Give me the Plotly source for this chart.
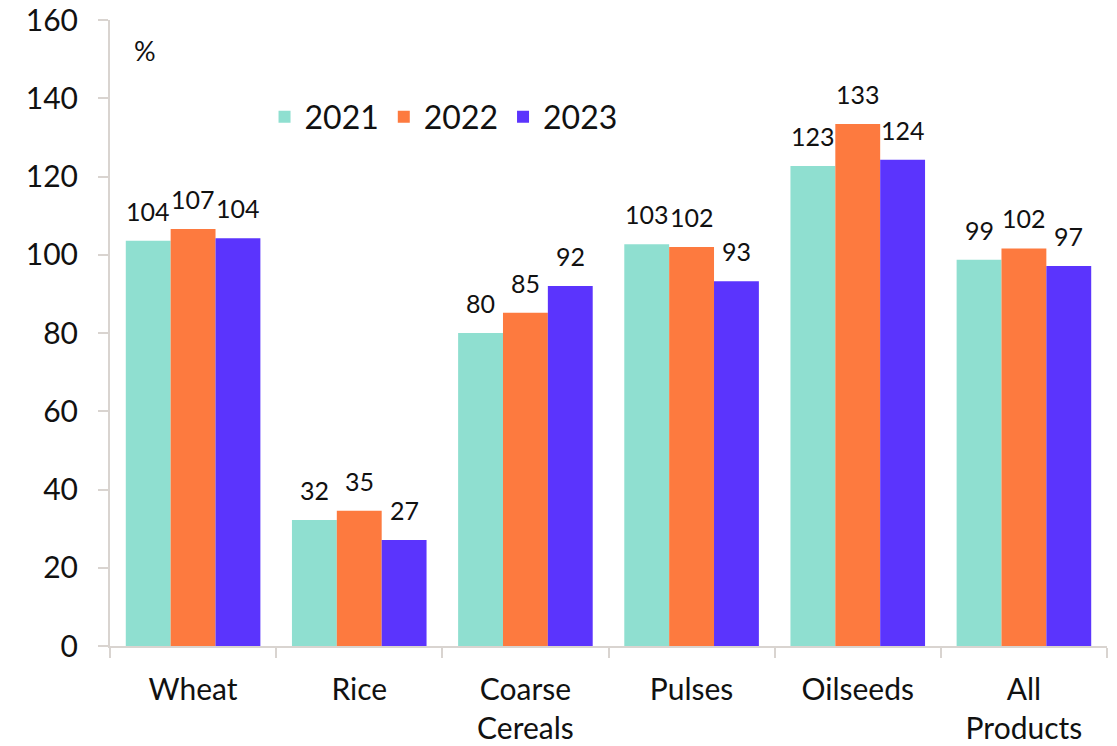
import plotly.graph_objects as go

categories = ["Wheat", "Rice", "Coarse<br>Cereals", "Pulses", "Oilseeds", "All<br>Products"]
years = ["2021", "2022", "2023"]
v2021 = [103.6, 32.2, 80.0, 102.7, 122.7, 98.7]
v2022 = [106.6, 34.6, 85.2, 102.0, 133.4, 101.6]
v2023 = [104.2, 27.1, 92.0, 93.2, 124.3, 97.1]
colors = ["#8FDFD0", "#FD7A3F", "#5B34FD"]

series = [v2021, v2022, v2023]
FONT = "Lato"

fig = go.Figure()
for name, vals, col in zip(years, series, colors):
    fig.add_trace(go.Bar(
        x=categories, y=vals, name=name, marker_color=col,
        marker_line_width=0,
    ))

bargap = 0.19
bw = (1 - bargap) / 3
for k, vals in enumerate(series):
    for i, v in enumerate(vals):
        fig.add_annotation(
            x=i + (k - 1) * bw, y=v, xref="x", yref="y",
            text=f"{round(v)}", showarrow=False, yanchor="bottom",
            yshift=13, font=dict(size=25, color="#111111", family=FONT),
        )

fig.add_annotation(x=0.022, y=160, xref="paper", yref="y", text="%",
                   showarrow=False, xanchor="left", yanchor="top", yshift=-12,
                   font=dict(size=27, color="#111111", family=FONT))

fig.update_layout(
    width=1117, height=746,
    margin=dict(l=110, r=10, t=20, b=100),
    paper_bgcolor="white", plot_bgcolor="white",
    barmode="group", bargap=bargap, bargroupgap=0,
    font=dict(family=FONT, size=30, color="#111111"),
    showlegend=True,
    legend=dict(orientation="h", x=0.155, y=0.845, xanchor="left", yanchor="middle",
                font=dict(size=32, family=FONT), bgcolor="rgba(0,0,0,0)",
                itemwidth=30, traceorder="normal"),
    xaxis=dict(showline=True, linecolor="#D9D4D0", linewidth=2, automargin=False,
               ticks="outside", tickson="boundaries", ticklen=10, tickcolor="#D9D4D0",
               tickwidth=2, showgrid=False, tickfont=dict(size=30, family=FONT),
               ticklabelstandoff=16),
    yaxis=dict(range=[0, 160], dtick=20, showline=True, linecolor="#D9D4D0", linewidth=2,
               automargin=False, ticklabeloverflow="allow",
               ticks="outside", ticklen=10, tickcolor="#D9D4D0", tickwidth=2,
               showgrid=False, zeroline=False, tickfont=dict(size=30, family=FONT),
               ticklabelstandoff=14),
)

fig.write_html("out.html")
